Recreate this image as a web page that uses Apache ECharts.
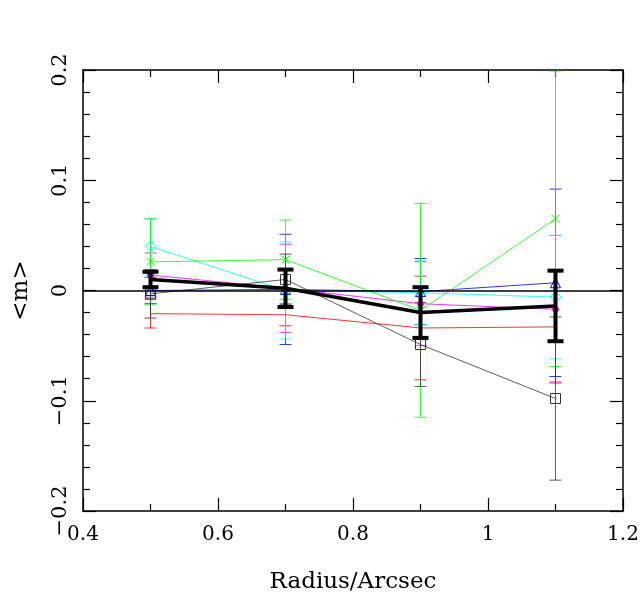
<!DOCTYPE html>
<html>
<head>
<meta charset="utf-8">
<script src="https://cdn.jsdelivr.net/npm/echarts@6/dist/echarts.min.js"></script>
<style>
  html, body { margin: 0; padding: 0; background: #fff; }
  #main { width: 642px; height: 603px; }
</style>
</head>
<body>
<div id="main"></div>
<script>
// radius bins (arcsec)
const radius = [0.5, 0.7, 0.9, 1.1];

// mean <m> per sample, with error bars
const meanM = [0.010, 0.002, -0.020, -0.014];
const meanErr = [0.007, 0.017, 0.023, 0.032];
const blackM = [-0.003, 0.010, -0.049, -0.098];
const blackErr = [0.022, 0.023, 0.038, 0.074];
const redM = [-0.021, -0.022, -0.034, -0.033];
const redErr = [0.013, 0.010, 0.047, 0.050];
const magentaM = [0.014, 0.002, -0.012, -0.017];
const magentaErr = [0.020, 0.040, 0.038, 0.067];
const blueM = [0.000, 0.001, -0.001, 0.007];
const blueErr = [0.012, 0.050, 0.030, 0.085];
const cyanM = [0.040, 0.000, -0.002, -0.006];
const cyanErr = [0.025, 0.044, 0.029, 0.056];
const greenM = [0.026, 0.028, -0.018, 0.065];
const greenErr = [0.039, 0.036, 0.097, 0.134];

const xTicks = [0.4, 0.6, 0.8, 1, 1.2];
const yTicks = [-0.2, -0.1, 0, 0.1, 0.2];

const FONT = 'DejaVu Serif';

function errSeries(name, vals, errs, color, width, cap) {
  return {
    name: name + ' err',
    type: 'custom',
    silent: true,
    z: width > 2 ? 6 : 3,
    data: radius.map((r, i) => [r, vals[i], errs[i]]),
    renderItem: function (params, api) {
      const x = api.value(0), y = api.value(1), e = api.value(2);
      const t = api.coord([x, y + e]);
      const b = api.coord([x, y - e]);
      const st = { stroke: color, lineWidth: width };
      return {
        type: 'group',
        children: [
          { type: 'line', shape: { x1: t[0], y1: t[1], x2: b[0], y2: b[1] }, style: st },
          { type: 'line', shape: { x1: t[0] - cap, y1: t[1], x2: t[0] + cap, y2: t[1] }, style: st },
          { type: 'line', shape: { x1: b[0] - cap, y1: b[1], x2: b[0] + cap, y2: b[1] }, style: st }
        ]
      };
    }
  };
}

function lineSeries(name, vals, color, width, symbol, size, filled) {
  return {
    name: name,
    type: 'line',
    data: radius.map((r, i) => [r, vals[i]]),
    symbol: symbol,
    symbolSize: size,
    z: width > 2 ? 7 : 4,
    lineStyle: { color: color, width: width },
    itemStyle: {
      color: filled ? color : 'rgba(0,0,0,0)',
      borderColor: color,
      borderWidth: 1
    },
    emphasis: { disabled: true },
    animation: false
  };
}

const crossPath = 'path://M0,0L10,10M10,0L0,10';

const fmt = v => {
  const s = String(Math.round(v * 10) / 10);
  return s.replace('-', '\u2212');
};

const chart = echarts.init(document.getElementById('main'));
chart.setOption({
  animation: false,
  backgroundColor: '#fff',
  grid: { left: 83, right: 19, top: 70, bottom: 92, show: false },
  xAxis: [{
    type: 'value', min: 0.4, max: 1.2, interval: 0.2,
    name: 'Radius/Arcsec', nameLocation: 'middle', nameGap: 60,
    nameTextStyle: { fontFamily: FONT, fontSize: 23, color: '#000' },
    axisLine: { show: true, onZero: false, lineStyle: { color: '#000', width: 1.5 } },
    axisTick: { show: true, inside: true, length: 13, lineStyle: { color: '#000', width: 1.2 } },
    minorTick: { show: true, splitNumber: 2, length: 7, lineStyle: { color: '#000', width: 1.2 } },
    splitLine: { show: false },
    axisLabel: {
      fontFamily: FONT, fontSize: 20, color: '#000', margin: 14,
      customValues: xTicks, formatter: fmt
    }
  }, {
    type: 'value', position: 'top', min: 0.4, max: 1.2, interval: 0.2,
    axisLine: { show: true, onZero: false, lineStyle: { color: '#000', width: 1.5 } },
    axisTick: { show: true, inside: true, length: 13, lineStyle: { color: '#000', width: 1.2 } },
    minorTick: { show: true, splitNumber: 2, length: 7, lineStyle: { color: '#000', width: 1.2 } },
    splitLine: { show: false },
    axisLabel: { show: false }
  }],
  yAxis: [{
    type: 'value', min: -0.2, max: 0.2, interval: 0.1,
    name: '<m>', nameLocation: 'middle', nameGap: 50, nameRotate: 90,
    nameTextStyle: { fontFamily: FONT, fontSize: 23, color: '#000' },
    axisLine: { show: true, onZero: false, lineStyle: { color: '#000', width: 1.5 } },
    axisTick: { show: true, inside: true, length: 13, lineStyle: { color: '#000', width: 1.2 } },
    minorTick: { show: true, splitNumber: 5, length: 7, lineStyle: { color: '#000', width: 1.2 } },
    splitLine: { show: false },
    axisLabel: {
      fontFamily: FONT, fontSize: 21, color: '#000', margin: 12, rotate: 90,
      customValues: yTicks, formatter: fmt
    }
  }, {
    type: 'value', position: 'right', min: -0.2, max: 0.2, interval: 0.1,
    axisLine: { show: true, onZero: false, lineStyle: { color: '#000', width: 1.5 } },
    axisTick: { show: true, inside: true, length: 13, lineStyle: { color: '#000', width: 1.2 } },
    minorTick: { show: true, splitNumber: 5, length: 7, lineStyle: { color: '#000', width: 1.2 } },
    splitLine: { show: false },
    axisLabel: { show: false }
  }],
  series: [
    errSeries('red', redM, redErr, '#ff0000', 0.8, 6),
    errSeries('magenta', magentaM, magentaErr, '#ff00ff', 0.8, 6),
    errSeries('blue', blueM, blueErr, '#0000ff', 0.8, 6),
    errSeries('cyan', cyanM, cyanErr, '#00ffff', 0.8, 6),
    errSeries('green', greenM, greenErr, '#00ff00', 0.8, 6),
    errSeries('black', blackM, blackErr, '#333333', 0.8, 6),
    lineSeries('red', redM, '#ff0000', 0.8, 'none', 0, true),
    lineSeries('magenta', magentaM, '#ff00ff', 0.8, 'circle', 6, true),
    lineSeries('blue', blueM, '#0000ff', 0.8, 'triangle', 10, false),
    lineSeries('cyan', cyanM, '#00ffff', 0.8, 'diamond', 11, false),
    lineSeries('green', greenM, '#00ff00', 0.8, crossPath, 8, false),
    lineSeries('black', blackM, '#333333', 0.8, 'rect', 10, false),
    {
      name: 'zero', type: 'line', data: [], silent: true, z: 5,
      markLine: {
        silent: true, symbol: 'none', label: { show: false },
        lineStyle: { color: '#000', width: 1.5, type: 'solid' },
        data: [{ yAxis: 0 }]
      }
    },
    errSeries('mean', meanM, meanErr, '#000000', 4, 8),
    lineSeries('mean', meanM, '#000000', 3.5, 'none', 0, true)
  ]
});
</script>
</body>
</html>
